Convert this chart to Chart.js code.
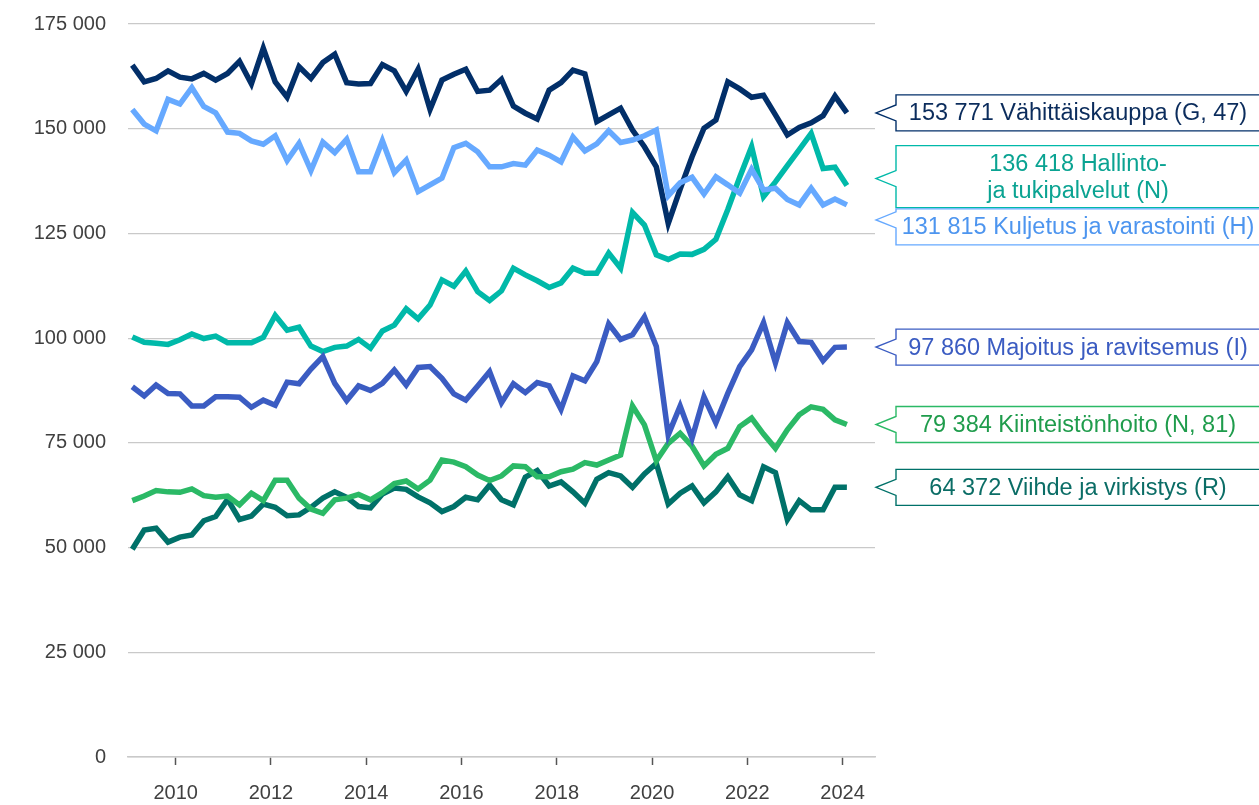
<!DOCTYPE html>
<html>
<head>
<meta charset="utf-8">
<script src="https://cdn.jsdelivr.net/npm/chart.js@4.4.1/dist/chart.umd.min.js"></script>
<style>
  body { margin: 0; background: #fff; }
  #wrap { width: 1259px; height: 805px; }
</style>
</head>
<body>
<div id="wrap"><canvas id="jobChart" width="1259" height="805"></canvas></div>
<script>
// quarters 2009Q1 .. 2024Q1
const quarters = [
  '2009Q1','2009Q2','2009Q3','2009Q4','2010Q1','2010Q2','2010Q3','2010Q4',
  '2011Q1','2011Q2','2011Q3','2011Q4','2012Q1','2012Q2','2012Q3','2012Q4',
  '2013Q1','2013Q2','2013Q3','2013Q4','2014Q1','2014Q2','2014Q3','2014Q4',
  '2015Q1','2015Q2','2015Q3','2015Q4','2016Q1','2016Q2','2016Q3','2016Q4',
  '2017Q1','2017Q2','2017Q3','2017Q4','2018Q1','2018Q2','2018Q3','2018Q4',
  '2019Q1','2019Q2','2019Q3','2019Q4','2020Q1','2020Q2','2020Q3','2020Q4',
  '2021Q1','2021Q2','2021Q3','2021Q4','2022Q1','2022Q2','2022Q3','2022Q4',
  '2023Q1','2023Q2','2023Q3','2023Q4','2024Q1'
];

const vahittais = [
  165200,161200,162000,163800,162300,161900,163200,161600,163200,166100,
  160700,169200,161200,157500,164800,162000,165800,167800,161000,160700,
  160800,165300,163800,158900,164200,154600,161600,163000,164200,158900,
  159200,161800,155400,153700,152300,159200,161000,164000,163100,151700,
  153300,154900,149700,145700,140900,127400,135600,143300,150100,152100,
  161200,159500,157500,158000,153300,148500,150300,151400,153100,157800,153771
];

const hallinto = [
  100300,99000,98800,98500,99600,101000,99900,100500,98900,98900,
  98900,100200,105400,101900,102600,98100,96800,97800,98100,99700,
  97600,101700,103100,107000,104600,107900,113900,112400,116000,111100,
  109000,111300,116700,115100,113700,112100,113200,116700,115500,115500,
  120300,116700,130000,127000,119900,118800,120100,120000,121200,123600,
  130700,138400,145700,133800,137300,141200,145000,148900,140500,140800,136418
];

const kuljetus = [
  154600,151100,149500,157000,155900,159800,155300,153800,149200,148900,
  147100,146300,148300,142400,146500,140000,146800,144300,147500,139700,
  139700,147100,139500,142500,135000,136600,138200,145500,146500,144500,
  140900,140900,141700,141300,144900,143700,142100,148000,144700,146400,
  149500,146700,147300,148300,149700,134000,137100,138400,134400,138500,
  136600,134600,140300,135400,135800,133100,131800,135800,131800,133200,131815
];

const majoitus = [
  88400,86200,88800,86800,86700,83800,83800,86000,86000,85900,
  83500,85200,84000,89500,89100,92600,95600,89200,85100,88600,
  87500,89200,92400,88800,93000,93200,90400,86700,85200,88600,
  92000,84600,89100,87000,89400,88600,83000,91000,89800,94400,
  103400,99700,100800,105100,98000,76900,83800,76100,86000,79800,
  86800,93200,97200,103700,94100,103700,99200,99000,94600,97800,97860
];

const kiinteisto = [
  61200,62300,63600,63300,63200,64000,62400,62000,62300,60200,
  63000,61200,66100,66100,61800,59200,58200,61400,61800,62700,
  61400,63100,65300,65900,64000,66100,70900,70400,69300,67300,
  66000,67100,69500,69300,66900,66900,68100,68700,70300,69700,
  70900,72100,83800,79300,70700,74900,77300,74200,69500,72300,
  73700,78900,80900,77100,73700,78100,81700,83600,83000,80500,79384
];

const viihde = [
  49600,54200,54600,51300,52500,53000,56400,57400,61500,56700,
  57500,60400,59600,57600,57800,59600,61800,63300,62000,59800,
  59500,62800,64200,63900,62100,60700,58600,59800,62000,61400,
  64900,61400,60200,66800,68400,64700,65700,63300,60600,66300,
  67900,67100,64400,67600,70100,60400,63000,64700,60700,63300,
  66900,62600,61200,69300,67900,56700,61200,59000,59000,64400,64372
];

const seriesLabels = [
  ['153 771 Vähittäiskauppa (G, 47)'],
  ['136 418 Hallinto-', 'ja tukipalvelut (N)'],
  ['131 815 Kuljetus ja varastointi (H)'],
  ['97 860 Majoitus ja ravitsemus (I)'],
  ['79 384 Kiinteistönhoito (N, 81)'],
  ['64 372 Viihde ja virkistys (R)']
];

const yTicks = [0, 25000, 50000, 75000, 100000, 125000, 150000, 175000];
const xTickYears = [2010, 2012, 2014, 2016, 2018, 2020, 2022, 2024];

function quarterToX(q) {
  const year = parseInt(q.slice(0, 4));
  const n = parseInt(q.slice(5));
  return year + (n - 1) / 4 + 0.09;
}

function toPoints(values) {
  return values.map((v, i) => ({ x: quarterToX(quarters[i]), y: v }));
}

function fmt(v) {
  return String(v).replace(/\B(?=(\d{3})+(?!\d))/g, ' ');
}

// line colour, text colour, box shift, pointer shift
const styles = [
  { line: '#022f69', text: '#0b2c5c', dy: 0, tipDy: 0 },
  { line: '#00b9a9', text: '#0aa392', dy: -9, tipDy: -7 },
  { line: '#66a9ff', text: '#4d95ef', dy: 22, tipDy: 15 },
  { line: '#3b5cc2', text: '#3b5cc2', dy: 0, tipDy: 0 },
  { line: '#2bb966', text: '#1f9c4c', dy: 0, tipDy: 0 },
  { line: '#007169', text: '#0b6d66', dy: 0, tipDy: 0 }
];

const allSeries = [vahittais, hallinto, kuljetus, majoitus, kiinteisto, viihde];

const endLabels = {
  id: 'endLabels',
  afterDraw(chart) {
    const ctx = chart.ctx;
    const y = chart.scales.y;
    const boxLeft = 896, boxRight = 1275, tipX = 876;
    ctx.save();
    ctx.font = '23.5px "Liberation Sans", Arial, sans-serif';
    ctx.textAlign = 'center';
    ctx.textBaseline = 'middle';
    allSeries.forEach((vals, k) => {
      const st = styles[k];
      const lines = seriesLabels[k];
      const vy = y.getPixelForValue(vals[vals.length - 1]);
      const h = lines.length === 1 ? 36 : 62;
      const cy = vy + st.dy;
      const top = cy - h / 2;
      const tipY = vy + st.tipDy;
      ctx.beginPath();
      ctx.moveTo(boxLeft, tipY - 8);
      ctx.lineTo(boxLeft, top);
      ctx.lineTo(boxRight, top);
      ctx.lineTo(boxRight, top + h);
      ctx.lineTo(boxLeft, top + h);
      ctx.lineTo(boxLeft, tipY + 8);
      ctx.lineTo(tipX, tipY);
      ctx.closePath();
      ctx.fillStyle = '#fff';
      ctx.fill();
      ctx.lineWidth = 1.4;
      ctx.strokeStyle = st.line;
      ctx.stroke();
      ctx.fillStyle = st.text;
      const lh = 27;
      lines.forEach((t, j) => {
        ctx.fillText(t, 1078, cy + (j - (lines.length - 1) / 2) * lh + 1);
      });
    });
    ctx.restore();
  }
};

const order = [2, 0, 3, 4, 5, 1];
const datasets = order.map(k => ({
  label: seriesLabels[k].join(' '),
  data: toPoints(allSeries[k]),
  borderColor: styles[k].line,
  backgroundColor: styles[k].line,
  borderWidth: 5.5,
  pointRadius: 0,
  tension: 0,
  fill: false
}));

const ctx = document.getElementById('jobChart').getContext('2d');
new Chart(ctx, {
  type: 'line',
  data: { datasets: datasets },
  options: {
    responsive: false,
    animation: false,
    layout: { padding: { top: 24, right: 384, bottom: 0, left: 0 } },
    plugins: {
      legend: { display: false },
      tooltip: { enabled: false }
    },
    scales: {
      x: {
        type: 'linear',
        min: 2009,
        max: 2024.68,
        afterBuildTicks: s => { s.ticks = xTickYears.map(v => ({ value: v })); },
        afterFit: s => { s.height = 48; },
        ticks: {
          callback: v => String(v),
          color: '#404040',
          font: { family: '"Liberation Sans", Arial, sans-serif', size: 20 },
          padding: 16,
          maxRotation: 0,
          autoSkip: false
        },
        grid: {
          drawOnChartArea: false,
          drawTicks: true,
          tickLength: 8,
          tickColor: '#555',
          tickWidth: 1.5
        },
        border: { display: true, color: '#c9c9c9', width: 1.5 }
      },
      y: {
        min: 0,
        max: 175000,
        afterBuildTicks: s => { s.ticks = yTicks.map(v => ({ value: v })); },
        afterFit: s => {
          s.width = 128;
          s.paddingTop = 12;
          s.paddingBottom = 12;
        },
        ticks: {
          callback: v => fmt(v),
          color: '#404040',
          font: { family: '"Liberation Sans", Arial, sans-serif', size: 20 },
          padding: 22
        },
        grid: {
          color: '#c9c9c9',
          lineWidth: 1.2,
          drawTicks: false
        },
        border: { display: false }
      }
    }
  },
  plugins: [endLabels]
});
</script>
</body>
</html>
